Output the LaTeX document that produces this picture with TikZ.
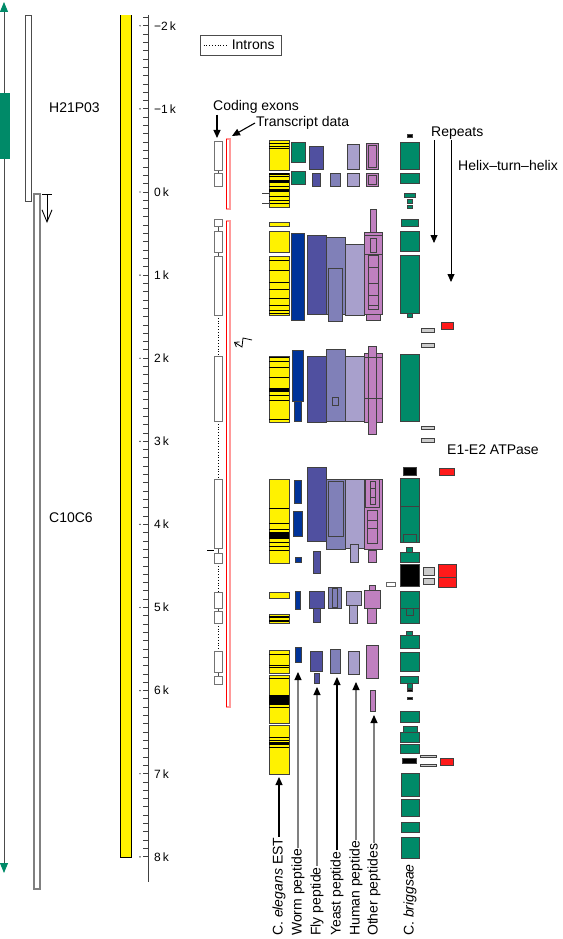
\documentclass[tikz,border=0pt]{standalone}
\usepackage{fontspec}
\setmainfont{Liberation Sans}
\usepackage{tikz}
\usetikzlibrary{arrows.meta,positioning}

\definecolor{worm}{HTML}{003399}
\definecolor{fly}{HTML}{5050A0}
\definecolor{yeast}{HTML}{8080B8}
\definecolor{human}{HTML}{A8A0CC}
\definecolor{other}{HTML}{C080C0}
\definecolor{brig}{HTML}{008A68}
\definecolor{hth}{HTML}{FF1A1A}
\definecolor{rep}{HTML}{CCCCCC}

\begin{document}
\begin{tikzpicture}[x=1pt,y=-1pt,
        box/.style={draw=black!75,line width=0.8pt},
        est/.style={box,fill=yellow},
        wormbox/.style={box,fill=worm},
        flybox/.style={box,fill=fly},
        yeastbox/.style={box,fill=yeast},
        humanbox/.style={box,fill=human},
        otherbox/.style={box,fill=other},
        brigbox/.style={box,fill=brig},
        repbox/.style={box,fill=rep},
        hthbox/.style={box,fill=hth},
        exon/.style={draw=black!55,line width=1pt,fill=white},
        intron/.style={dotted,line width=0.8pt},
        trans/.style={draw=red!40,line width=1.2pt,fill=white},
        stripe/.style={line width=0.8pt},
        axis/.style={draw=black!75,line width=0.9pt},
        lbl/.style={inner sep=1pt,font=\fontsize{14}{16}\selectfont},
        axlbl/.style={inner sep=0pt,anchor=west,font=\fontsize{12}{14}\selectfont},
        vlbl/.style={lbl,rotate=90,anchor=west},
        lblarrow/.style={-{Triangle[length=8pt,width=7pt,color=black]},line width=1.1pt},
        greyarrow/.style={lblarrow,draw=black!50}]
        \useasboundingbox (0,0) rectangle (562,939);

        \coordinate (strandTop) at (4,2);
        \coordinate (strandBot) at (4,873);
        \draw[draw=black!70,line width=0.9pt,{Triangle[length=10pt,width=8pt,color=brig]}-{Triangle[length=10pt,width=8pt,color=brig]}] (strandTop) -- (strandBot);
        \draw[brigbox,draw=none] (0,93) rectangle (10,159);

        \draw[draw=black!70,line width=0.9pt] (25,15) rectangle (31,201);
        \draw[draw=black!50,line width=1.3pt] (34,194) rectangle (40,889);
        \node[lbl,anchor=west] (cloneA) at (48,108) {H21P03};
        \node[lbl,anchor=west] (cloneB) at (48,518) {C10C6};
        \coordinate (startBar) at (47,194);
        \coordinate (startTip) at (47,223);
        \draw[line width=0.9pt,{Bar[width=10pt]}-{Straight Barb[length=12pt,width=10pt]}] (startBar) -- (startTip);

        \draw[box,draw=black] (120,15) rectangle (131,857);
        \fill[yellow] (120.5,15.5) rectangle (130.5,856.5);
        \draw[axis] (148.5,15) -- (148.5,882);
        \foreach \n in {-21,...,80}
          \draw[axis] (143,{192+8.31*\n}) -- (148.5,{192+8.31*\n});
        \foreach \k/\t in {-2/−2,-1/−1,0/0,1/1,2/2,3/3,4/4,5/5,6/6,7/7,8/8}{
          \fill (140,{192+83.1*\k}) circle (0.7);
          \node[axlbl] (tick\k) at (154,{192+83.1*\k}) {\t\,k};
        }

        \node[draw=black!70,line width=0.8pt,minimum width=81pt,minimum height=20pt] (intronKey) at (240.5,45) {};
        \draw[intron] ([xshift=4pt]intronKey.west) -- ++(24,0);
        \node[lbl,anchor=west] (intronLbl) at ([xshift=31pt]intronKey.west) {Introns};

        \node[lbl,anchor=west] (codingLbl) at (212,107) {Coding exons};
        \node[lbl,anchor=west] (transLbl) at (255,123) {Transcript data};
        \coordinate (exonTip) at (217,138);
        \coordinate (transTip) at (232,136);
        \draw[lblarrow] (exonTip |- codingLbl.south) -- (exonTip);
        \draw[lblarrow] (transLbl.west) -- (transTip);

        \foreach \a/\b in {315/356,421/479,563/592,623/651}
          \draw[intron] (218,\a) -- (218,\b);
        \foreach \a/\b in {170/173,226/231,252/256,548/553,608/611,672/676}
          \draw[draw=black!70,line width=0.8pt] (218,\a) -- (218,\b);
        \draw[line width=0.8pt] (207,550) -- (214,550);
        \foreach \a/\b in {141/170,173/186,219/226,231/252,256/315,356/421,479/548,553/563,592/608,611/623,651/672,676/684}
          \draw[exon] (214,\a) rectangle (222,\b);

        \foreach \a/\b in {139/209,221/707}{
          \draw[trans] (226.5,\a) rectangle (230,\b);
          \draw[red,line width=0.5pt] (226.5,\a) -- (226.5,\b);
        }
        \draw[line width=0.8pt,-{Straight Barb[length=4pt,width=6pt]}] (252,340) -- (243,338) -- (242,347) -- (234,342);

        \foreach \a/\b in {140/170,173/207,222/226,231/252,256/315,356/422,479/563,592/598,614/623,650/673,675/723,725/774}
          \draw[est] (269,\a) rectangle (289,\b);
        \foreach \y in {143,146,148,176,182,186,196,200,203,260,270,282,289,298,305,310,313,357,361,367,377,395,400,419,508,523,529,542,546,550,654,665,667,678,707,737,740,747}
          \draw[stripe] (269,\y) -- (289,\y);
        \foreach \a/\b in {173/175,180/183,189/192,616/618,620/622,388/392,532/539,695/705,742/745}
          \fill (269,\a) rectangle (289,\b);
        \foreach \y in {193,203}
          \draw[stripe,draw=black!75] (262,\y) -- (270,\y);

        \foreach \l/\r/\a/\b in {291/304/233/320,292/303/350/401,294/301/401/421,294/301/480/503,293/302/511/536,295/301/557/562,295/300/591/609,295/301/647/662}
          \draw[wormbox] (\l,\a) rectangle (\r,\b);
        \foreach \l/\r/\a/\b in {291/305/142/162,291/305/171/184}
          \draw[brigbox] (\l,\a) rectangle (\r,\b);
        \foreach \l/\r/\a/\b in {309/323/146/169,312/320/173/186,307/326/235/314,307/326/356/422,307/326/467/541,313/320/551/573,313/320/608/622,309/324/591/608,310/322/651/671,314/319/673/683}
          \draw[flybox] (\l,\a) rectangle (\r,\b);
        \foreach \l/\r/\a/\b in {330/340/173/186,326/345/237/314,328/342/268/321,326/345/349/421,332/338/397/405,326/345/479/549,328/343/481/536,328/341/587/608,332/337/588/607,330/340/649/673}
          \draw[yeastbox] (\l,\a) rectangle (\r,\b);
        \foreach \l/\r/\a/\b in {347/359/144/169,347/359/173/186,345/364/244/315,345/364/356/421,345/364/479/548,350/358/544/562,349/357/605/623,346/361/591/605,348/359/651/674}
          \draw[humanbox] (\l,\a) rectangle (\r,\b);
        \foreach \l/\r/\a/\b in {366/378/143/169,368/376/145/167,366/378/173/186,368/376/175/184,370/376/209/232,366/380/314/320,364/382/232/314,370/376/238/252,368/378/255/309,364/382/353/422,368/376/346/434,364/382/479/549,365/379/479/507,370/375/481/504,367/377/510/543,368/376/550/562,369/375/585/590,367/376/608/623,364/380/590/608,366/378/645/678,370/375/690/711}
          \draw[otherbox] (\l,\a) rectangle (\r,\b);
        \foreach \l/\r/\y in {364/382/235,364/382/254,368/378/267,368/378/283,368/378/295,368/378/305,364/382/357,364/382/398,370/375/488,370/375/497,367/377/520,367/377/528}
          \draw[stripe,draw=black!75] (\l,\y) -- (\r,\y);

        \foreach \l/\r/\a/\b in {400/419/142/169,400/419/173/183,404/415/193/197,407/412/199/203,407/412/205/208,401/418/219/226,400/419/231/251,407/412/313/317,400/419/255/313,400/419/354/421,400/419/478/506,400/419/506/542,403/416/534/542,406/412/547/552,400/419/552/562,400/419/591/608,400/419/608/623,406/413/608/615,406/412/631/635,400/419/635/648,400/419/652/671,407/412/683/688,400/418/676/683,400/419/711/722,403/417/726/732,400/419/732/742,400/419/744/753,401/419/773/796,401/419/799/816,401/419/822/832,401/419/837/858}
          \draw[brigbox] (\l,\a) rectangle (\r,\b);
        \foreach \l/\r/\a/\b in {407/412/134/137,403/416/467/475,400/419/564/586,407/412/689/691,407/412/697/699,402/416/758/763}
          \draw[box,fill=black] (\l,\a) rectangle (\r,\b);
        \foreach \l/\r/\a/\b in {421/434/328/332,421/434/343/347,421/434/426/429,421/434/438/442,423/434/567/575,423/434/578/584,420/436/755/757,420/436/764/766}
          \draw[repbox] (\l,\a) rectangle (\r,\b);
        \draw[box,draw=black!60,fill=white] (386,582) rectangle (395,586);
        \foreach \l/\r/\a/\b in {441/453/322/329,439/454/468/475,438/456/564/577,438/456/577/587,440/453/758/765}
          \draw[hthbox] (\l,\a) rectangle (\r,\b);

        \node[lbl,anchor=west] (repLbl) at (430,133) {Repeats};
        \node[lbl,anchor=west] (hthLbl) at (457,165) {Helix--turn--helix};
        \node[lbl,anchor=west] (atpLbl) at (446,450) {E1-E2 ATPase};
        \coordinate (repTipA) at (434,243);
        \coordinate (repTipB) at (451,282);
        \draw[lblarrow,line width=0.8pt] (repTipA |- repLbl.south) -- (repTipA);
        \draw[lblarrow,line width=0.8pt] (repTipB |- repLbl.south) -- (repTipB);

        \node[vlbl] (estLbl) at (279,937) {C. \textit{elegans} EST};
        \node[vlbl] (wormLbl) at (298,937) {Worm peptide};
        \node[vlbl] (flyLbl) at (317,937) {Fly peptide};
        \node[vlbl] (yeastLbl) at (337,937) {Yeast peptide};
        \node[vlbl] (humanLbl) at (356,937) {Human peptide};
        \node[vlbl] (otherLbl) at (374,937) {Other peptides};
        \node[vlbl] (brigLbl) at (410,937) {C. \textit{briggsae}};
        \coordinate (estTip) at (279,777);
        \coordinate (wormTip) at (298,672);
        \coordinate (flyTip) at (317,687);
        \coordinate (yeastTip) at (337,677);
        \coordinate (humanTip) at (356,682);
        \coordinate (otherTip) at (374,715);
        \draw[lblarrow] (estLbl.east) -- (estTip);
        \draw[greyarrow] (wormLbl.east) -- (wormTip);
        \draw[greyarrow] (flyLbl.east) -- (flyTip);
        \draw[lblarrow] (yeastLbl.east) -- (yeastTip);
        \draw[greyarrow] (humanLbl.east) -- (humanTip);
        \draw[greyarrow] (otherLbl.east) -- (otherTip);
    \end{tikzpicture}
\end{document}
